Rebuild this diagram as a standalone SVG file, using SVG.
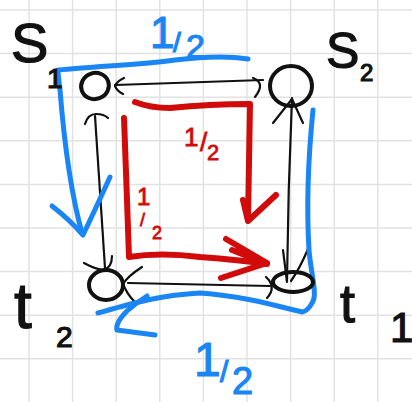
<svg xmlns="http://www.w3.org/2000/svg" width="412" height="402" viewBox="0 0 412 402">
<style>
.grid line{stroke:#e2e2e2;stroke-width:1.5}
.k{fill:none;stroke:#111;stroke-linecap:round;stroke-linejoin:round}
.thin{stroke-width:2.2}
.node{stroke-width:4}
.b{fill:none;stroke:#1a86f5;stroke-width:5;stroke-linecap:round;stroke-linejoin:round}
.r{fill:none;stroke:#d10a0a;stroke-width:6;stroke-linecap:round;stroke-linejoin:round}
.lbl{font-family:"Liberation Sans",Arial,sans-serif;fill:#111;stroke:#111;stroke-width:1.2}
.bl{font-family:"Liberation Sans",Arial,sans-serif;fill:#1a86f5;stroke:#1a86f5;stroke-width:1.2}
.rl{font-family:"Liberation Sans",Arial,sans-serif;fill:#d10a0a;stroke:#d10a0a;stroke-width:0.8}
</style>
<rect width="412" height="402" fill="#fff"/>
<g class="grid">
<line x1="29" y1="0" x2="29" y2="402"/><line x1="72.6" y1="0" x2="72.6" y2="402"/><line x1="116.2" y1="0" x2="116.2" y2="402"/><line x1="159.8" y1="0" x2="159.8" y2="402"/><line x1="203.4" y1="0" x2="203.4" y2="402"/><line x1="247" y1="0" x2="247" y2="402"/><line x1="290.6" y1="0" x2="290.6" y2="402"/><line x1="334.2" y1="0" x2="334.2" y2="402"/><line x1="377.8" y1="0" x2="377.8" y2="402"/>
<line x1="0" y1="10" x2="412" y2="10"/><line x1="0" y1="53.6" x2="412" y2="53.6"/><line x1="0" y1="97.2" x2="412" y2="97.2"/><line x1="0" y1="140.8" x2="412" y2="140.8"/><line x1="0" y1="184.4" x2="412" y2="184.4"/><line x1="0" y1="228" x2="412" y2="228"/><line x1="0" y1="271.6" x2="412" y2="271.6"/><line x1="0" y1="315.2" x2="412" y2="315.2"/><line x1="0" y1="358.8" x2="412" y2="358.8"/>
</g>
<g id="connectors" class="k thin">
<path d="M115,85 L263,80"/>
<path d="M124,78 Q116,82 115,86 Q117,91 123,94"/>
<path d="M253,78 Q266,83 255,97"/>
<path d="M95,116 Q100,190 105,268"/>
<path d="M85,124 Q88,114 96,114 Q104,114 108,118"/>
<path d="M84,263 Q95,269 103,270 Q112,268 112,256"/>
<path d="M292,98 Q288,190 287,281"/>
<path d="M273,123 L292,99 L303,123"/>
<path d="M283,250 L287,282 M308,249 Q300,268 291,281"/>
<path d="M128,283 L270,286"/>
<path d="M142,267 Q128,276 123,284 Q127,294 134,301"/>
<path d="M266,277 Q277,287 267,298"/>
</g>
<g id="flow-blue" class="b">
<path d="M248,59 C230,56 200,57 175,60 C140,65 95,66 58,70 Q58,75 60,90 C64,140 70,190 82,233"/>
<path d="M52,206 Q70,220 83,235 Q95,210 110,177"/>
<path d="M313,110 C309,150 306,200 309,250 C311,275 318,295 312,303 Q308,311 302,312 C280,307 245,296 200,293 C160,295 130,304 98,313"/>
<path d="M147,296 Q136,303 127,311 Q115,323 117,330 L155,335"/>
</g>
<g id="flow-red" class="r">
<path d="M135,102 Q150,108 170,108 Q210,104 250,104 L248,220"/>
<path d="M243,200 L248,221 L276,195"/>
<path d="M124,118 L127,200 L129,257 Q160,252 200,257 Q240,260 267,264"/>
<path d="M226,239 L267,263 L221,278 M232,250 L262,262"/>
</g>
<g id="s1"><ellipse class="k node" cx="95" cy="86" rx="14" ry="13" transform="rotate(-20 95 86)"/><text class="lbl" x="11" y="62" font-size="56">S</text><text class="lbl" x="47" y="88" font-size="28">1</text></g>
<g id="s2"><ellipse class="k node" cx="291" cy="86" rx="21" ry="20"/><text class="lbl" x="326" y="68" font-size="50">S</text><text class="lbl" x="360" y="81" font-size="24">2</text></g>
<g id="t2"><ellipse class="k node" cx="106" cy="285" rx="17" ry="15"/><text class="lbl" x="14" y="328" font-size="64">t</text><text class="lbl" x="56" y="347" font-size="30">2</text></g>
<g id="t1"><ellipse class="k node" cx="293" cy="282" rx="20" ry="10"/><text class="lbl" x="340" y="322" font-size="54">t</text><text class="lbl" x="390" y="342" font-size="42">1</text></g>
<g id="labels">
<text class="bl" font-size="44"><tspan x="150" y="48">1</tspan><tspan x="173" y="52" font-size="28">/</tspan><tspan x="186" y="58" font-size="34">2</tspan></text>
<text class="rl" font-size="26"><tspan x="184" y="146">1</tspan><tspan x="200" y="151">/</tspan><tspan x="207" y="160" font-size="22">2</tspan></text>
<text class="rl" font-size="24"><tspan x="137" y="205">1</tspan><tspan x="140" y="226" font-size="18">/</tspan><tspan x="152" y="239" font-size="18">2</tspan></text>
<text class="bl" font-size="48"><tspan x="194" y="376">1</tspan><tspan x="220" y="382" font-size="30">/</tspan><tspan x="232" y="394" font-size="38">2</tspan></text>
</g>
</svg>
